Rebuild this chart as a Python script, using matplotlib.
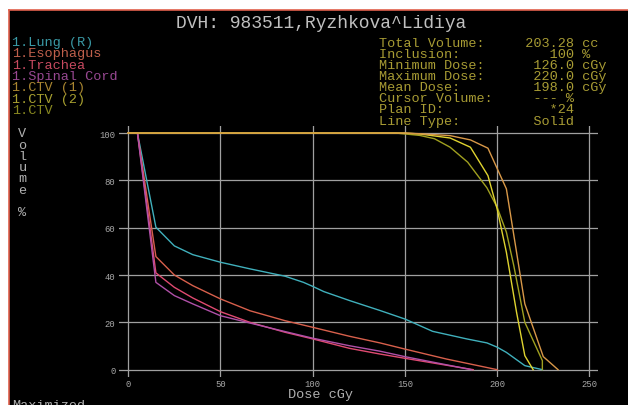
import matplotlib
matplotlib.use("Agg")
import matplotlib.pyplot as plt
from matplotlib.patches import Rectangle
from matplotlib.lines import Line2D

# ---------------- data ----------------
lung_dose = [0, 5, 15, 25, 35, 50, 66, 85, 95, 100, 106, 120, 136.5, 150, 165, 183.5, 194.5, 200, 205, 215, 224.5]
lung_vol  = [100, 100, 60.2, 52.3, 48.6, 45.4, 42.6, 39.5, 36.9, 35.2, 33.0, 29.2, 25.0, 21.4, 16.2, 13.0, 11.3, 9.5, 7.3, 1.7, 0.0]

esoph_dose = [0, 5, 15, 25, 35, 50, 66, 85, 100, 120, 136.5, 150, 172.5, 200]
esoph_vol  = [100, 100, 47.8, 40.0, 35.5, 29.9, 24.9, 20.7, 17.9, 14.1, 11.3, 8.7, 4.5, 0.0]

trach_dose = [0, 5, 15, 25, 35, 50, 66, 85, 100, 120, 136.5, 150, 187]
trach_vol  = [100, 100, 40.9, 34.8, 30.3, 24.5, 20.0, 15.8, 13.0, 9.0, 6.6, 4.8, 0.0]

cord_dose = [0, 5, 15, 25, 35, 50, 66, 85, 100, 120, 136.5, 150, 186]
cord_vol  = [100, 100, 36.9, 31.3, 27.8, 22.8, 19.7, 16.1, 13.3, 10.1, 7.8, 5.5, 0.0]

ctv1_dose = [0, 150, 158, 174.5, 185.5, 195, 205, 215, 225, 233]
ctv1_vol  = [100, 100, 99.7, 98.9, 97.1, 93.6, 76.4, 27.8, 5.5, 0.0]

ctv2_dose = [0, 150, 158, 174.5, 185.5, 195, 200, 205, 210.5, 215, 219.5]
ctv2_vol  = [100, 100, 99.6, 97.9, 94.0, 82.0, 67.9, 49.6, 24.3, 5.9, 0.0]

ctv_dose = [0, 145, 158, 166, 174.5, 184, 194.5, 200, 205, 209, 215, 224.5, 224.5]
ctv_vol  = [100, 100, 99.0, 97.6, 94.0, 87.7, 76.8, 68.6, 58.1, 44.0, 20.0, 3.8, 0.0]

structures = ["1.Lung (R)", "1.Esophagus", "1.Trachea", "1.Spinal Cord", "1.CTV (1)", "1.CTV (2)", "1.CTV"]
struct_colors = ["#3a9aa6", "#c0604c", "#c84a60", "#984892", "#a88530", "#a8a030", "#888820"]
line_colors = ["#40b0bc", "#d8604c", "#e04a70", "#b050a8", "#d89848", "#e0d430", "#a0a020"]

x_ticks = [0, 50, 100, 150, 200, 250]
y_ticks = [0, 20, 40, 60, 80, 100]

title = "DVH: 983511,Ryzhkova^Lidiya"
info_labels = ["Total Volume:", "Inclusion:", "Minimum Dose:", "Maximum Dose:",
               "Mean Dose:", "Cursor Volume:", "Plan ID:", "Line Type:"]
info_values = ["203.28", "100", "126.0", "220.0", "198.0", "--- %", "*24", "Solid"]
info_units = ["cc", "%", "cGy", "cGy", "cGy", "", "", ""]

# ---------------- figure ----------------
W, H = 628, 406
fig = plt.figure(figsize=(W / 100, H / 100), dpi=100, facecolor="white")

def fx(x):
    return x / W

def fy(y):
    return 1 - y / H

# black panel with red left/top edge
fig.patches.append(Rectangle((fx(9), 0), 1 - fx(9), fy(11), transform=fig.transFigure,
                             facecolor="black", edgecolor="none", zorder=-5))
fig.lines.append(Line2D([fx(8.8), fx(8.8)], [0, fy(10.8)], transform=fig.transFigure,
                        color="#e0604c", lw=1.2, zorder=-4))
fig.lines.append(Line2D([fx(8.8), 1], [fy(10.8), fy(10.8)], transform=fig.transFigure,
                        color="#e0604c", lw=1.2, zorder=-4))

mono = "Liberation Mono"

# axes
ax_l, ax_r, ax_t, ax_b = 119, 597.7, 126.7, 378
ax = fig.add_axes([fx(ax_l), fy(ax_b), fx(ax_r) - fx(ax_l), fy(ax_t) - fy(ax_b)])
ax.set_zorder(2)
ax.patch.set_visible(False)
ax.set_xlim(-5.0, 254.5)
ax.set_ylim(-3.1, 103.1)
for s in ax.spines.values():
    s.set_visible(False)
ax.set_xticks(x_ticks)
ax.set_yticks(y_ticks)
ax.set_xticklabels([str(t) for t in x_ticks])
ax.set_yticklabels([str(t) for t in y_ticks])
ax.tick_params(axis="y", length=0, colors="#a8a8a8", labelsize=6.4, pad=2.5)
ax.tick_params(axis="x", length=0, colors="#a8a8a8", labelsize=6.4, pad=1.5)
for lab in ax.get_xticklabels() + ax.get_yticklabels():
    lab.set_fontfamily(mono)
ax.grid(True, color="#a0a0a0", lw=0.9)
ax.set_axisbelow(True)

series = [(lung_dose, lung_vol), (esoph_dose, esoph_vol), (trach_dose, trach_vol),
          (cord_dose, cord_vol), (ctv_dose, ctv_vol), (ctv2_dose, ctv2_vol), (ctv1_dose, ctv1_vol)]
cols = [line_colors[0], line_colors[1], line_colors[2], line_colors[3],
        line_colors[6], line_colors[5], line_colors[4]]
for (d, v), c in zip(series, cols):
    ax.plot(d, v, color=c, lw=1.0, zorder=3)

# title
fig.text(fx(321), fy(28), title, ha="center", va="baseline", color="#c0c0c0",
         fontsize=13, family=mono)

# structure list
leg_y = [42.3, 53.5, 64.7, 76.0, 87.3, 98.6, 110.0]
for name, c, y in zip(structures, struct_colors, leg_y):
    fig.text(fx(12), fy(y + 4), name, ha="left", va="baseline", color=c,
             fontsize=9.7, family=mono)

# info block
info_y = [42.7, 53.5, 64.7, 75.8, 87.0, 98.2, 109.4, 120.6]
for lab, val, unit, y in zip(info_labels, info_values, info_units, info_y):
    line = lab.ljust(14) + val.rjust(10) + ((" " + unit) if unit else "")
    fig.text(fx(379), fy(y + 4), line, ha="left", va="baseline", color="#a89c34",
             fontsize=9.7, family=mono)

# y label (vertical letters)
ylab = "Volume %"
for i, ch in enumerate(ylab):
    if ch != " ":
        fig.text(fx(22.5), fy(133.3 + i * 11.3 + 4), ch, ha="center", va="baseline",
                 color="#b0b0b0", fontsize=9.7, family=mono)

# x label
fig.text(fx(320), fy(398.5), "Dose cGy", ha="center", va="baseline", color="#b0b0b0",
         fontsize=9.7, family=mono)

# status text (cut off at bottom, as in the original screenshot)
fig.text(fx(12), fy(409), "Maximized", ha="left", va="baseline", color="#b0b0b0",
         fontsize=9.7, family=mono)

fig.savefig("out.png", dpi=100, facecolor="white")
